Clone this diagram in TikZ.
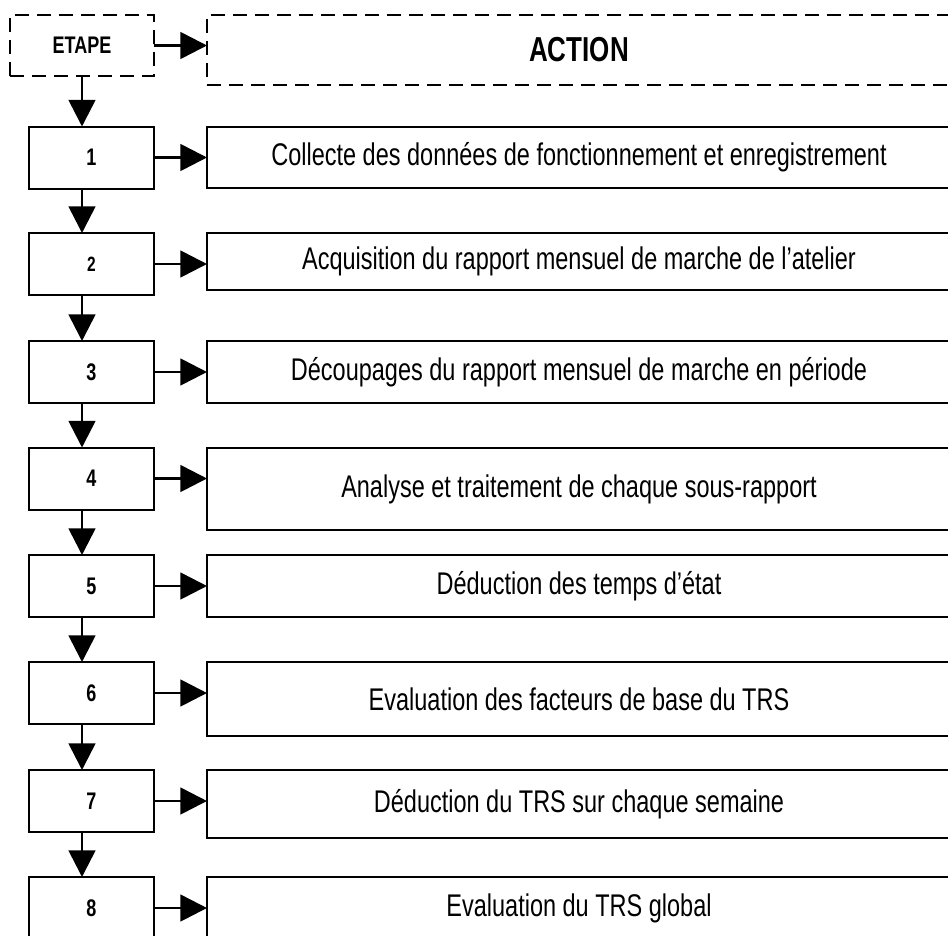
\documentclass[tikz,border=0pt]{standalone}
\usepackage{fontspec}
\setmainfont{Liberation Sans}[FakeStretch=0.75]
\usetikzlibrary{arrows.meta}

\begin{document}
\begin{tikzpicture}[x=0.75pt,y=0.75pt,yscale=-1,xscale=1,
    box/.style={draw,line width=1.5pt,inner sep=0pt,outer sep=0pt},
    headbox/.style={box,dash pattern=on 10.5pt off 6pt},
    stepbox/.style={box,minimum width=93.75pt,minimum height=46.5pt,font=\fontsize{18}{20}\selectfont\bfseries},
    actbox/.style={box,minimum width=558pt,font=\fontsize{23.5}{27}\selectfont},
    flow/.style={line width=2pt,-{Triangle[length=20pt,width=20pt]}}]
    %set diagram frame: 948 wide, 935 high
    \useasboundingbox (0,0) rectangle (948,935);
    \clip (0,0) rectangle (948,935);

    %Shape: Header boxes
    \node[headbox,minimum width=108pt,minimum height=45.75pt,font=\fontsize{18}{20}\selectfont\bfseries] (etape) at (82,45.5) {ETAPE};
    \node[headbox,minimum width=558pt,minimum height=52.5pt,font=\fontsize{26}{30}\selectfont\bfseries] (action) at (579,50) {ACTION};

    %Shape: Step boxes
    \node[stepbox] (s1) at (91.5,157.5) {1};
    \node[stepbox,font=\fontsize{15.5}{17}\selectfont\bfseries] (s2) at (91.5,264) {2};
    \node[stepbox] (s3) at (91.5,372) {3};
    \node[stepbox] (s4) at (91.5,478.5) {4};
    \node[stepbox] (s5) at (91.5,586) {5};
    \node[stepbox] (s6) at (91.5,693) {6};
    \node[stepbox] (s7) at (91.5,801) {7};
    \node[stepbox] (s8) at (91.5,908) {8};

    %Shape: Action boxes
    \node[actbox,minimum height=45.75pt] (a1) at (579,157.5) {Collecte des données de fonctionnement et enregistrement};
    \node[actbox,minimum height=42.75pt] (a2) at (579,261.5) {Acquisition du rapport mensuel de marche de l’atelier};
    \node[actbox,minimum height=46.5pt] (a3) at (579,372) {Découpages du rapport mensuel de marche en période};
    \node[actbox,minimum height=61.5pt] (a4) at (579,489) {Analyse et traitement de chaque sous-rapport};
    \node[actbox,minimum height=46.5pt] (a5) at (579,586) {Déduction des temps d’état};
    \node[actbox,minimum height=55.5pt] (a6) at (579,699) {Evaluation des facteurs de base du TRS};
    \node[actbox,minimum height=51pt] (a7) at (579,804) {Déduction du TRS sur chaque semaine};
    \node[actbox,minimum height=46.5pt] (a8) at (579,908) {Evaluation du TRS global};

    %Straight Lines: arrows
    \draw[flow] (etape.east) -- (etape.east -| action.west);
    \draw[flow] (etape.south) -- (etape.south |- s1.north);
    \foreach \i/\j in {1/2,2/3,3/4,4/5,5/6,6/7,7/8}
        \draw[flow] (s\i.south -| etape.south) -- (etape.south |- s\j.north);
    \foreach \i in {1,...,8}
        \draw[flow] (s\i.east) -- (s\i.east -| a\i.west);

\end{tikzpicture}
\end{document}
